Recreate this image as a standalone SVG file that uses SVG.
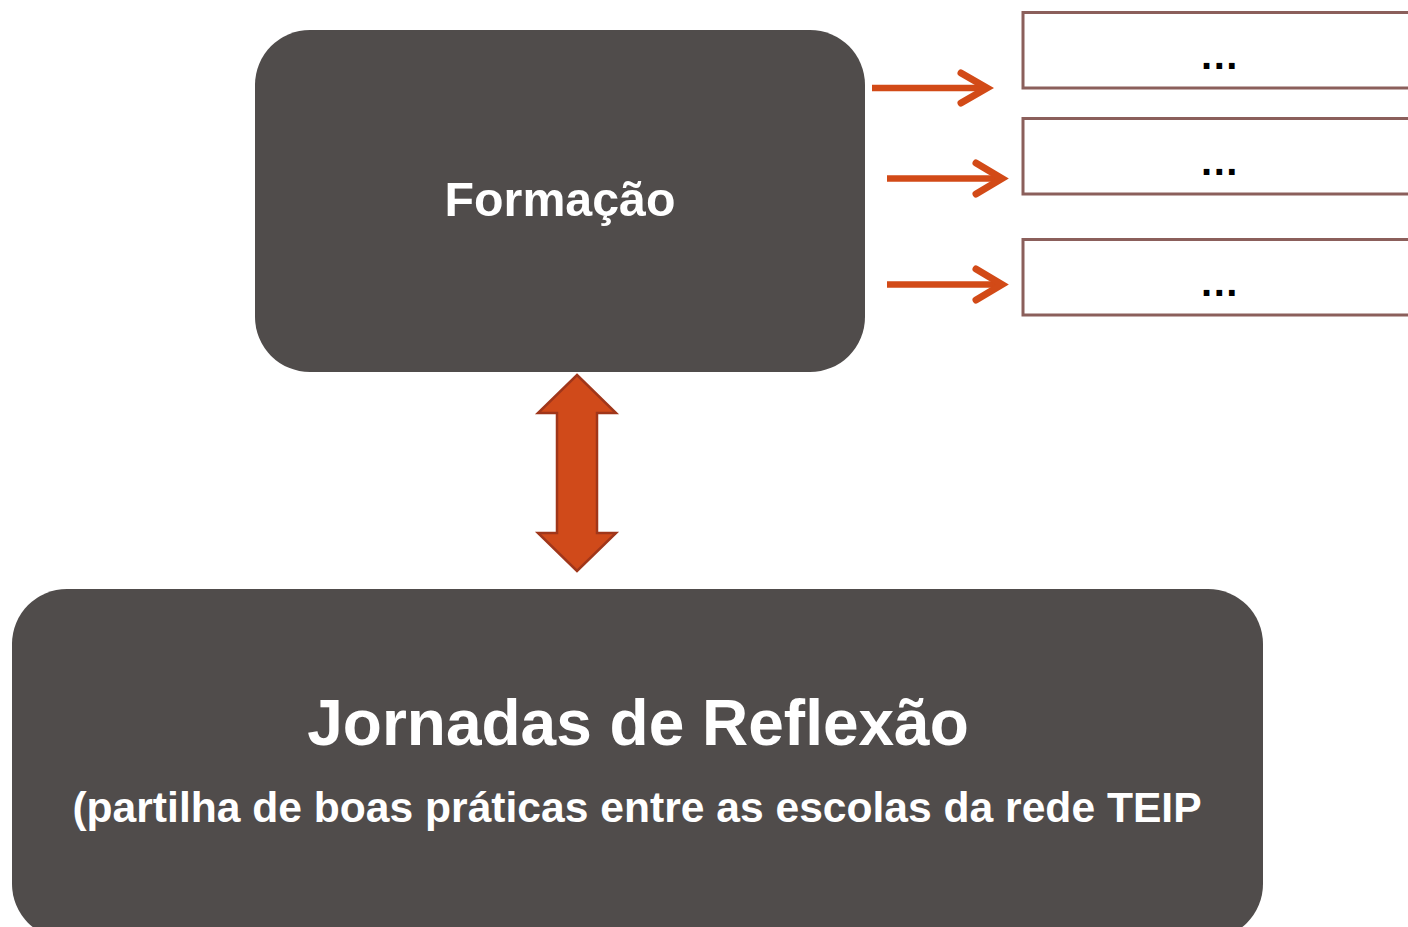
<svg xmlns="http://www.w3.org/2000/svg" width="1408" height="927" viewBox="0 0 1408 927">
  <style>
    .dark { fill: #504c4b; }
    .title { font-family: "Liberation Sans", Arial, sans-serif; font-weight: bold; fill: #ffffff; text-anchor: middle; }
    .box { fill: #ffffff; stroke: #8b5f5b; stroke-width: 3; }
    .dots { font-family: "Liberation Sans", Arial, sans-serif; font-size: 40px; font-weight: bold; letter-spacing: 1.5px; fill: #000000; text-anchor: middle; }
    .arr { fill: none; stroke: #d24a17; stroke-width: 6.5; }
    .head { fill: none; stroke: #d24a17; stroke-width: 7; stroke-linecap: round; stroke-linejoin: miter; }
    .dbl { fill: #d04a1a; stroke: #a0361a; stroke-width: 2.5; stroke-linejoin: miter; }
  </style>
  <rect width="1408" height="927" fill="#ffffff"/>

  <g id="formacao">
    <rect class="dark" x="255" y="30" width="610" height="342" rx="55" ry="55"/>
    <text class="title" x="560" y="216" font-size="48.3">Formação</text>
  </g>

  <g id="item1">
    <rect class="box" x="1023" y="12.5" width="400" height="75.5"/>
    <text class="dots" x="1220" y="69">...</text>
  </g>
  <g id="item2">
    <rect class="box" x="1023" y="118.5" width="400" height="75.5"/>
    <text class="dots" x="1220" y="175">...</text>
  </g>
  <g id="item3">
    <rect class="box" x="1023" y="239.5" width="400" height="75.5"/>
    <text class="dots" x="1220" y="296">...</text>
  </g>

  <g id="jornadas">
    <rect class="dark" x="12" y="589" width="1251" height="350" rx="55" ry="55"/>
    <text class="title" x="638" y="745" font-size="64">Jornadas de Reflexão</text>
    <text class="title" x="637" y="822" font-size="42.6">(partilha de boas práticas entre as escolas da rede TEIP</text>
  </g>

  <g id="connectors">
    <line class="arr" x1="872" y1="88" x2="984" y2="88"/>
    <polyline class="head" points="961,73 987,88 961,103"/>
    <line class="arr" x1="887" y1="178.5" x2="999" y2="178.5"/>
    <polyline class="head" points="976,163 1002,178.5 976,194"/>
    <line class="arr" x1="887" y1="284.5" x2="999" y2="284.5"/>
    <polyline class="head" points="976,269 1002,284.5 976,300"/>
    <polygon class="dbl" points="577,375 616,413 597,413 597,533 616,533 577,571 538,533 557,533 557,413 538,413"/>
  </g>
</svg>
